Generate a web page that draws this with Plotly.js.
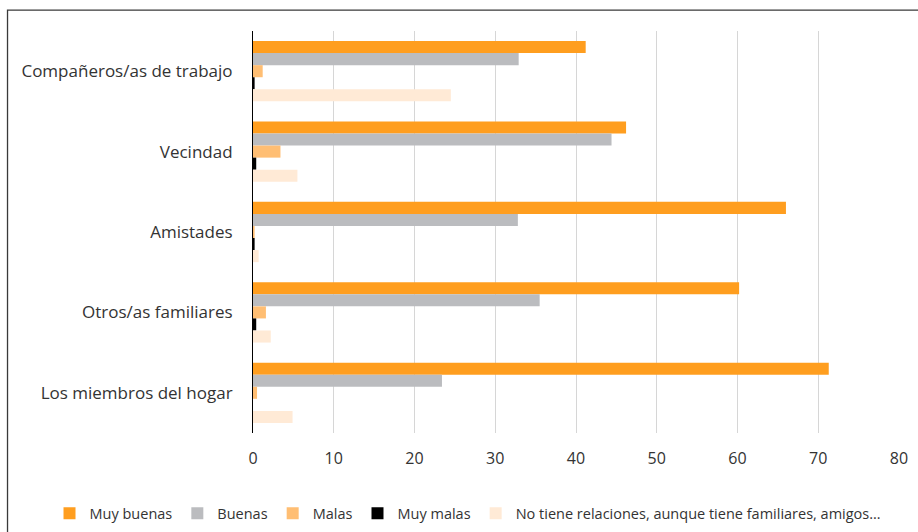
<!DOCTYPE html>
<html>
<head>
<meta charset="utf-8">
<script src="https://cdn.plot.ly/plotly-3.0.1.min.js"></script>
<style>
  html, body { margin: 0; padding: 0; background: #ffffff; }
  #chart { width: 918px; height: 532px; }
</style>
</head>
<body>
<div id="chart"></div>
<script>
// Relationship quality by type of relationship (%)
const categories = [
  "Compañeros/as de trabajo",
  "Vecindad",
  "Amistades",
  "Otros/as familiares",
  "Los miembros del hogar"
];

const seriesNames = [
  "Muy buenas",
  "Buenas",
  "Malas",
  "Muy malas",
  "No tiene relaciones, aunque tiene familiares, amigos…"
];

const muyBuenas = [41.2, 46.2, 66.0, 60.2, 71.3];
const buenas    = [32.9, 44.4, 32.8, 35.5, 23.4];
const malas     = [1.2, 3.4, 0.2, 1.6, 0.5];
const muyMalas  = [0.2, 0.4, 0.2, 0.4, 0.0];
const noTiene   = [24.5, 5.5, 0.7, 2.2, 4.9];

const xTicks = [0, 10, 20, 30, 40, 50, 60, 70, 80];

const seriesValues = [muyBuenas, buenas, malas, muyMalas, noTiene];
const seriesColors = ["#FF9E1F", "#BBBCBF", "#FFBE73", "#000000", "#FFEAD6"];

const traces = seriesValues.map((vals, i) => ({
  type: "bar",
  orientation: "h",
  name: seriesNames[i],
  y: categories,
  x: vals,
  marker: { color: seriesColors[i] },
  hoverinfo: "x+name"
}));

const font = "Open Sans, Noto Sans, Liberation Sans, sans-serif";

const layout = {
  width: 918,
  height: 532,
  paper_bgcolor: "#ffffff",
  plot_bgcolor: "#ffffff",
  margin: { l: 252.5, r: 19.3, t: 31, b: 99.3, pad: 0, autoexpand: false },
  barmode: "group",
  bargap: 0.25,
  bargroupgap: 0,
  font: { family: font, color: "#333333" },
  xaxis: {
    range: [0, 80],
    tickvals: xTicks,
    ticktext: xTicks.map(String),
    showgrid: true,
    gridcolor: "#D6D6D6",
    gridwidth: 1,
    zeroline: false,
    showline: false,
    ticks: "",
    ticklabelstandoff: 14,
    tickfont: { family: font, size: 16, color: "#333333" },
    fixedrange: true
  },
  yaxis: {
    type: "category",
    categoryorder: "array",
    categoryarray: categories,
    autorange: "reversed",
    showgrid: false,
    zeroline: false,
    showline: true,
    linecolor: "#000000",
    linewidth: 1,
    ticks: "",
    ticklabelstandoff: 16,
    tickfont: { family: font, size: 17, color: "#333333" },
    fixedrange: true
  },
  showlegend: true,
  legend: {
    orientation: "h",
    x: -0.315,
    xanchor: "left",
    y: -0.2,
    yanchor: "middle",
    font: { family: font, size: 14.5, color: "#333333" },
    traceorder: "normal",
    itemwidth: 30
  },
  shapes: [
    {
      type: "rect",
      xref: "paper",
      yref: "paper",
      x0: -0.38,
      x1: 1.05,
      y0: -0.27,
      y1: 1.052,
      line: { color: "#3a3a3a", width: 1.3 },
      fillcolor: "rgba(0,0,0,0)",
      layer: "below"
    }
  ]
};

Plotly.newPlot("chart", traces, layout, { displayModeBar: false, staticPlot: true });
</script>
</body>
</html>
